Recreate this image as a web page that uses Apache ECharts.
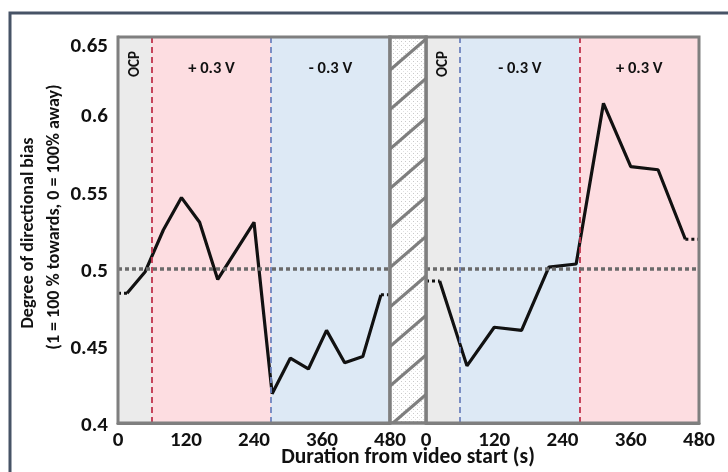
<!DOCTYPE html>
<html>
<head>
<meta charset="utf-8">
<script src="https://cdn.jsdelivr.net/npm/echarts@6/dist/echarts.min.js"></script>
<style>
  html, body { margin: 0; padding: 0; background: #ffffff; }
  #chart { width: 728px; height: 472px; }
</style>
</head>
<body>
<div id="chart"></div>
<script>
// Session 1: 32 s bins (bin centres, s) and directional bias
const session1Time = [16, 48, 80, 112, 144, 176, 240, 272, 304, 336, 368, 400, 432, 464];
const session1Bias = [0.484, 0.498, 0.525, 0.546, 0.530, 0.493, 0.530, 0.419, 0.442, 0.435, 0.460, 0.439, 0.443, 0.483];

// Session 2: 48 s bins
const session2Time = [24, 72, 120, 168, 216, 264, 312, 360, 408, 456];
const session2Bias = [0.492, 0.437, 0.462, 0.460, 0.501, 0.503, 0.607, 0.566, 0.564, 0.519];

// Applied potential phases (s)
const session1Phases = [
  { name: 'OCP', from: 0, to: 60 },
  { name: '+ 0.3 V', from: 60, to: 270 },
  { name: '- 0.3 V', from: 270, to: 480 }
];
const session2Phases = [
  { name: 'OCP', from: 0, to: 60 },
  { name: '- 0.3 V', from: 60, to: 270 },
  { name: '+ 0.3 V', from: 270, to: 480 }
];

const xTickLabels = [0, 120, 240, 360, 480];
const yTickLabels = [0.4, 0.45, 0.5, 0.55, 0.6, 0.65];
const neutralBias = 0.5;

const FONT = "Carlito, 'Liberation Sans Narrow', 'Liberation Sans', sans-serif";
const FRAME = '#7f7f7f';
const TICK_FONT = 21;
const phaseFill = { 'OCP': '#ebebeb', '+ 0.3 V': '#fddde1', '- 0.3 V': '#dde9f5' };
const phaseEdge = { '+ 0.3 V': '#c0334d', '- 0.3 V': '#6f84bf' };

const G1 = { left: 118, top: 37, width: 272, height: 386 };
const G2 = { left: 426, top: 37, width: 273, height: 386 };

const chart = echarts.init(document.getElementById('chart'), null, { renderer: 'canvas' });

function xAxisFor(idx) {
  return {
    type: 'value', gridIndex: idx,
    min: xTickLabels[0], max: xTickLabels[xTickLabels.length - 1], interval: 60,
    axisLine: { show: true, lineStyle: { color: FRAME, width: 3 } },
    axisTick: { show: true, inside: true, length: 5, lineStyle: { color: FRAME, width: 1.5 } },
    splitLine: { show: false },
    axisLabel: {
      margin: 7, color: '#111', fontFamily: FONT, fontWeight: 'bold', fontSize: TICK_FONT,
      formatter: v => (xTickLabels.indexOf(v) >= 0 ? String(v) : '')
    }
  };
}

function yAxisFor(idx) {
  const left = idx === 0;
  return {
    type: 'value', gridIndex: idx,
    min: yTickLabels[0], max: yTickLabels[yTickLabels.length - 1], interval: 0.05,
    axisLine: { show: left, lineStyle: { color: FRAME, width: 3 } },
    axisTick: { show: left, inside: true, length: 5, lineStyle: { color: FRAME, width: 1.5 } },
    splitLine: { show: false },
    axisLabel: {
      show: left, margin: 10, color: '#111', fontFamily: FONT, fontWeight: 'bold', fontSize: TICK_FONT,
      formatter: v => {
        const s = String(Math.round(v * 100) / 100);
        return Math.abs(v - 0.65) < 1e-9 ? '{top|' + s + '}' : '{n|' + s + '}';
      },
      rich: {
        n: { fontFamily: FONT, fontWeight: 'bold', fontSize: TICK_FONT, color: '#111', padding: [6, 0, 0, 0] },
        top: { fontFamily: FONT, fontWeight: 'bold', fontSize: TICK_FONT, color: '#111', padding: [20, 0, 0, 0] }
      }
    }
  };
}

function phaseLabel(name) {
  if (name === 'OCP') {
    return {
      show: true, position: 'insideTop', distance: 14, rotate: 90,
      align: 'right', verticalAlign: 'middle',
      color: '#111', fontFamily: FONT, fontWeight: 'bold', fontSize: 15
    };
  }
  return {
    show: true, position: 'insideTop', distance: 23,
    color: '#111', fontFamily: FONT, fontWeight: 'bold', fontSize: 16.5
  };
}

function panelSeries(idx, times, bias, phases) {
  const areas = phases.map(p => [
    { name: p.name, xAxis: p.from, itemStyle: { color: phaseFill[p.name] }, label: phaseLabel(p.name) },
    { xAxis: p.to }
  ]);
  const edges = phases.filter(p => p.from > 0).map(p => ({
    xAxis: p.from,
    lineStyle: { color: phaseEdge[p.name], type: [6, 4], width: 1.8 }
  }));
  const n = times.length;
  const xMin = xTickLabels[0], xMax = xTickLabels[xTickLabels.length - 1];
  const dotted = { color: '#111', width: 3, type: [3, 3] };
  return [
    {
      type: 'line', xAxisIndex: idx, yAxisIndex: idx, data: [], silent: true, z: 1,
      markArea: { silent: true, data: areas },
      markLine: {
        silent: true, symbol: 'none', label: { show: false },
        data: edges.concat([{ yAxis: neutralBias, lineStyle: { color: '#6a6a6a', type: [4, 3], width: 3.5 } }])
      }
    },
    {
      type: 'line', xAxisIndex: idx, yAxisIndex: idx, silent: true, z: 3,
      symbol: 'none', lineStyle: { color: '#111', width: 3.2 },
      data: times.map((t, i) => [t, bias[i]])
    },
    {
      type: 'line', xAxisIndex: idx, yAxisIndex: idx, silent: true, z: 3,
      symbol: 'none', lineStyle: dotted,
      data: [[xMin, bias[0]], [times[0], bias[0]]]
    },
    {
      type: 'line', xAxisIndex: idx, yAxisIndex: idx, silent: true, z: 3,
      symbol: 'none', lineStyle: dotted,
      data: [[times[n - 1], bias[n - 1]], [xMax, bias[n - 1]]]
    }
  ];
}

// Speckled fill for the break between sessions
const speckle = document.createElement('canvas');
speckle.width = 4; speckle.height = 4;
(function () {
  const c = speckle.getContext('2d');
  c.fillStyle = '#ffffff'; c.fillRect(0, 0, 4, 4);
  c.fillStyle = '#c9c9c9'; c.fillRect(1, 1, 1, 1);
  c.fillStyle = '#e2e2e2'; c.fillRect(3, 3, 1, 1);
})();

// Break box between the two panels, with diagonal hatching
const bx0 = G1.left + G1.width, bx1 = G2.left;
const by0 = G1.top, by1 = G1.top + G1.height;
const hatch = [];
const rise = 31;
for (let yl = 70; yl < by1 + rise; yl += 39.5) {
  let x1 = bx0, y1 = yl, x2 = bx1, y2 = yl - rise;
  const slope = -rise / (bx1 - bx0);
  if (y1 > by1) { x1 = bx0 + (by1 - yl) / slope; y1 = by1; }
  if (y2 < by0) { x2 = bx0 + (by0 - yl) / slope; y2 = by0; }
  hatch.push({
    type: 'line', silent: true, z: 20,
    shape: { x1: x1, y1: y1, x2: x2, y2: y2 },
    style: { stroke: FRAME, lineWidth: 3 }
  });
}

const option = {
  animation: false,
  backgroundColor: '#ffffff',
  grid: [
    Object.assign({ show: true, z: 10, backgroundColor: 'transparent', borderColor: FRAME, borderWidth: 3 }, G1),
    Object.assign({ show: true, z: 10, backgroundColor: 'transparent', borderColor: FRAME, borderWidth: 3 }, G2)
  ],
  xAxis: [xAxisFor(0), xAxisFor(1)],
  yAxis: [yAxisFor(0), yAxisFor(1)],
  series: panelSeries(0, session1Time, session1Bias, session1Phases)
    .concat(panelSeries(1, session2Time, session2Bias, session2Phases)),
  graphic: [
    {
      type: 'rect', silent: true, z: 0,
      shape: { x: 10, y: 13, width: 760, height: 500 },
      style: { fill: 'none', stroke: '#475366', lineWidth: 3 }
    },
    {
      type: 'rect', silent: true, z: 19,
      shape: { x: bx0, y: by0, width: bx1 - bx0, height: by1 - by0 },
      style: { fill: { image: speckle, repeat: 'repeat' }, stroke: 'none' }
    }
  ].concat(hatch).concat([
    {
      type: 'rect', silent: true, z: 21,
      shape: { x: bx0, y: by0, width: bx1 - bx0, height: by1 - by0 },
      style: { fill: 'none', stroke: FRAME, lineWidth: 3.5 }
    },
    {
      type: 'text', silent: true, z: 30, x: 28, y: 233, rotation: Math.PI / 2,
      style: {
        text: 'Degree of directional bias', font: "bold 18px " + FONT, fill: '#111',
        textAlign: 'center', textVerticalAlign: 'middle', align: 'center', verticalAlign: 'middle'
      }
    },
    {
      type: 'text', silent: true, z: 30, x: 54, y: 217, rotation: Math.PI / 2,
      style: {
        text: '(1 = 100 % towards, 0 = 100% away)', font: "bold 18px " + FONT, fill: '#111',
        textAlign: 'center', textVerticalAlign: 'middle', align: 'center', verticalAlign: 'middle'
      }
    },
    {
      type: 'text', silent: true, z: 30, x: 408, y: 458,
      style: {
        text: 'Duration from video start (s)', font: "bold 21.5px " + FONT, fill: '#111',
        textAlign: 'center', textVerticalAlign: 'middle', align: 'center', verticalAlign: 'middle'
      }
    }
  ])
};

chart.setOption(option);
</script>
</body>
</html>
